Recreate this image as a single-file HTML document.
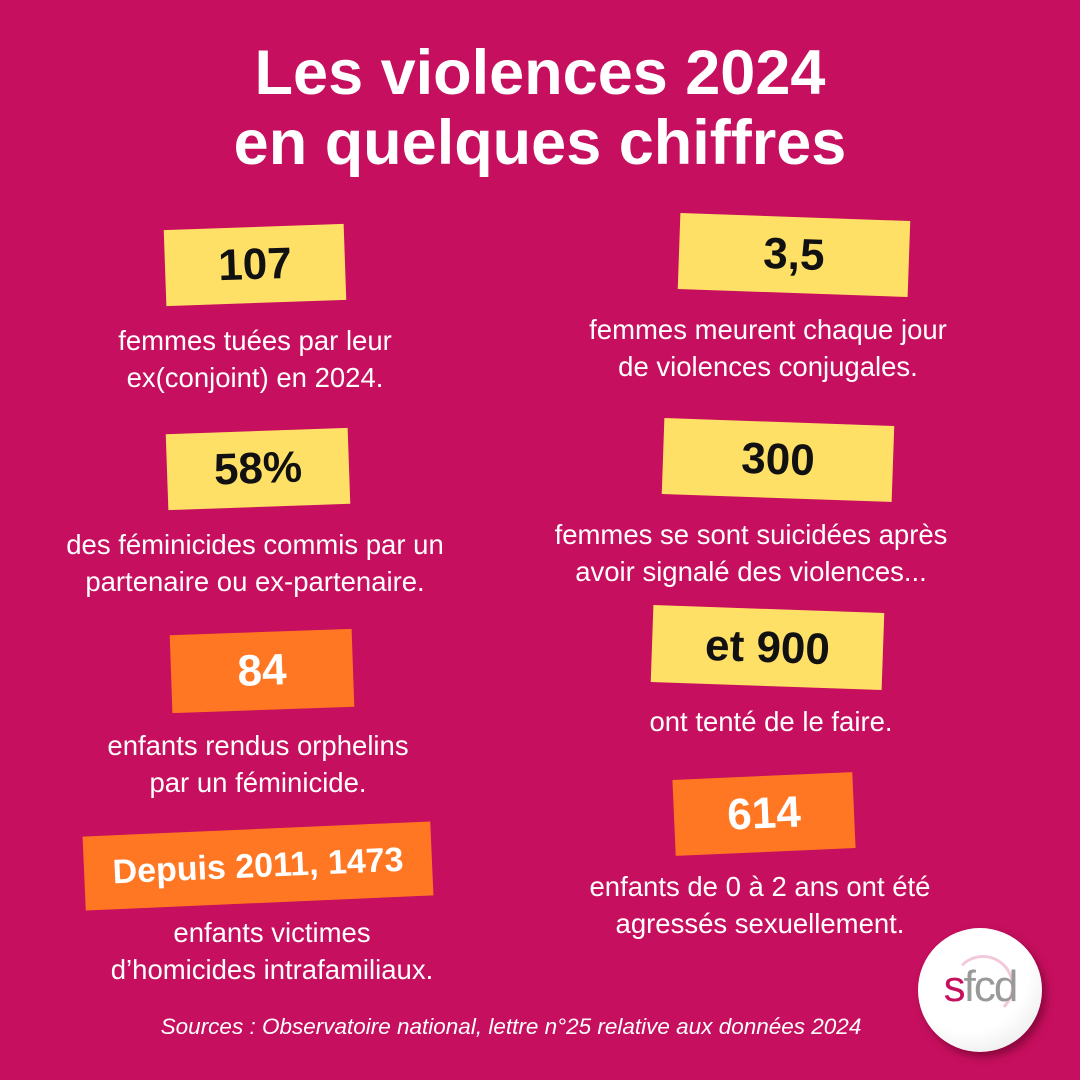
<!DOCTYPE html>
<html><head><meta charset="utf-8"><style>
*{margin:0;padding:0;box-sizing:border-box}
body{width:1080px;height:1080px;background:#C60F5E;position:relative;overflow:hidden;font-family:"Liberation Sans",sans-serif;color:#fff}
.t{position:absolute;left:0;width:1080px;text-align:center;font-weight:bold;font-size:63px;line-height:70px}
.b{position:absolute;display:flex;align-items:center;justify-content:center;font-weight:bold;font-size:44px;color:#111}
.y{background:#FFE066}.o{background:#FF7722;color:#fff}
.p{position:absolute;width:500px;text-align:center;font-size:27.5px;line-height:37px}
.src{position:absolute;top:1014px;left:0;width:1022px;text-align:center;font-style:italic;font-size:22.5px}
</style></head><body>
<div class="t" style="top:38px">Les violences 2024</div>
<div class="t" style="top:108px">en quelques chiffres</div>

<div class="b y" style="left:165px;top:227px;width:180px;height:76px;transform:rotate(-2deg)">107</div>
<div class="p" style="left:5px;top:322px">femmes tuées par leur<br>ex(conjoint) en 2024.</div>

<div class="b y" style="left:679px;top:217px;width:230px;height:76px;transform:rotate(2deg)">3,5</div>
<div class="p" style="left:518px;top:311px">femmes meurent chaque jour<br>de violences conjugales.</div>

<div class="b y" style="left:167px;top:431px;width:182px;height:76px;transform:rotate(-2deg)">58%</div>
<div class="p" style="left:5px;top:526px">des féminicides commis par un<br>partenaire ou ex-partenaire.</div>

<div class="b y" style="left:663px;top:422px;width:230px;height:76px;transform:rotate(2deg)">300</div>
<div class="p" style="left:501px;top:516px">femmes se sont suicidées après<br>avoir signalé des violences...</div>

<div class="b o" style="left:171px;top:632px;width:182px;height:78px;transform:rotate(-2deg)">84</div>
<div class="p" style="left:8px;top:727px">enfants rendus orphelins<br>par un féminicide.</div>

<div class="b y" style="left:652px;top:609px;width:231px;height:77px;transform:rotate(2deg)">et 900</div>
<div class="p" style="left:521px;top:703px">ont tenté de le faire.</div>

<div class="b o" style="left:84px;top:829px;width:348px;height:74px;transform:rotate(-2.5deg);font-size:34px">Depuis 2011, 1473</div>
<div class="p" style="left:22px;top:914px">enfants victimes<br>d’homicides intrafamiliaux.</div>

<div class="b o" style="left:674px;top:776px;width:180px;height:76px;transform:rotate(-2.5deg)">614</div>
<div class="p" style="left:510px;top:868px">enfants de 0 à 2 ans ont été<br>agressés sexuellement.</div>

<div style="position:absolute;left:918px;top:928px;width:124px;height:124px;border-radius:50%;background:radial-gradient(circle at 40% 35%,#fff 55%,#eee 80%,#ddd);box-shadow:4px 5px 8px rgba(80,0,30,.5)"></div>
<div style="position:absolute;left:952px;top:955px;width:62px;height:62px;border-radius:50%;border:3px solid #f2c8dc;border-left-color:transparent;border-bottom-color:transparent"></div>
<div style="position:absolute;left:932px;top:962px;width:96px;text-align:center;font-size:44px;color:#999;letter-spacing:-2px"><span style="color:#C60F5E">s</span>fcd</div>

<div class="src">Sources : Observatoire national, lettre n°25 relative aux données 2024</div>
</body></html>
